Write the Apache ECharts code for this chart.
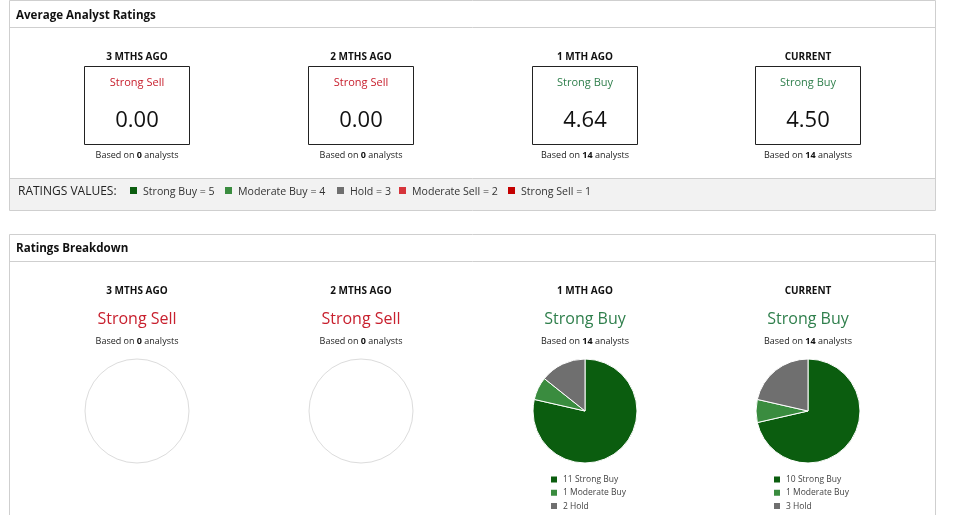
<!DOCTYPE html>
<html>
<head>
<meta charset="utf-8">
<script src="https://cdn.jsdelivr.net/npm/echarts@6/dist/echarts.min.js"></script>
<style>html,body{margin:0;padding:0;background:#fff;}#c{width:963px;height:515px;}</style>
</head>
<body>
<div id="c"></div>
<script>
// ---- data ----
const periods = ['3 MTHS AGO', '2 MTHS AGO', '1 MTH AGO', 'CURRENT'];
const avgRating = [0.00, 0.00, 4.64, 4.50];
const consensus = ['Strong Sell', 'Strong Sell', 'Strong Buy', 'Strong Buy'];
const analystCount = [0, 0, 14, 14];
const ratingNames = ['Strong Buy', 'Moderate Buy', 'Hold', 'Moderate Sell', 'Strong Sell'];
const ratingValues = [5, 4, 3, 2, 1];
const strongBuy = [0, 0, 11, 10];
const moderateBuy = [0, 0, 1, 1];
const hold = [0, 0, 2, 3];
const moderateSell = [0, 0, 0, 0];
const strongSell = [0, 0, 0, 0];

// ---- style ----
const FONT = '"Open Sans", "Noto Sans", sans-serif';
const ratingColors = ['#0b5d0f', '#3a8c3f', '#6f6f6f', '#d6343b', '#c40000'];
const consensusColor = { 'Strong Sell': '#c8202e', 'Strong Buy': '#2f7f4c' };
const colX = [137, 361, 585, 808];
const borderC = '#cfcfcf';

const chart = echarts.init(document.getElementById('c'));
const g = [];
function txt(x, y, text, font, fill, align) {
  g.push({ type: 'text', x: x, y: y, silent: true,
    style: { text: text, font: font, fill: fill || '#111', align: align || 'center', verticalAlign: 'middle' } });
}
function basedOn(x, y, n) {
  g.push({ type: 'text', x: x, y: y, silent: true,
    style: { text: '{a|Based on }{b|' + n + '}{a| analysts}', align: 'center', verticalAlign: 'middle',
      rich: { a: { font: '9px ' + FONT, fill: '#222' }, b: { font: 'bold 9px ' + FONT, fill: '#111' } } } });
}

// Panel 1
g.push({ type: 'rect', shape: { x: 9.5, y: 0.5, width: 926, height: 210 }, style: { fill: '#fff', stroke: borderC, lineWidth: 1 }, silent: true });
g.push({ type: 'rect', shape: { x: 10, y: 178.5, width: 925, height: 31.5 }, style: { fill: '#f2f2f2', stroke: null }, silent: true });
g.push({ type: 'line', shape: { x1: 10, y1: 178.5, x2: 935, y2: 178.5 }, style: { stroke: borderC, lineWidth: 1 }, silent: true });
g.push({ type: 'line', shape: { x1: 10, y1: 27.5, x2: 935, y2: 27.5 }, style: { stroke: borderC, lineWidth: 1 }, silent: true });
txt(16, 15.5, 'Average Analyst Ratings', 'bold 11.6px ' + FONT, '#111', 'left');

periods.forEach(function (p, i) {
  const x = colX[i];
  txt(x, 57.5, p, 'bold 10px ' + FONT, '#111');
  g.push({ type: 'rect', shape: { x: x - 52.5, y: 66.5, width: 105, height: 78 }, style: { fill: '#fff', stroke: '#222', lineWidth: 1 }, silent: true });
  txt(x, 82.5, consensus[i], '11px ' + FONT, consensusColor[consensus[i]]);
  txt(x, 121, avgRating[i].toFixed(2), '22px ' + FONT, '#111');
  basedOn(x, 155.5, analystCount[i]);
});

// Ratings values footer
txt(18, 191.5, 'RATINGS VALUES:', '12px ' + FONT, '#222', 'left');
const footX = [130, 225, 337, 399, 508];
ratingNames.forEach(function (n, i) {
  g.push({ type: 'rect', shape: { x: footX[i], y: 187, width: 7, height: 7 }, style: { fill: ratingColors[i] }, silent: true });
  txt(footX[i] + 13, 191.5, n + ' = ' + ratingValues[i], '10.6px ' + FONT, '#333', 'left');
});

// Panel 2
g.push({ type: 'rect', shape: { x: 9.5, y: 234.5, width: 926, height: 300 }, style: { fill: 'rgba(0,0,0,0)', stroke: borderC, lineWidth: 1 }, silent: true, z: -10 });
g.push({ type: 'line', shape: { x1: 10, y1: 261.5, x2: 935, y2: 261.5 }, style: { stroke: borderC, lineWidth: 1 }, silent: true });
txt(16, 248.5, 'Ratings Breakdown', 'bold 11.6px ' + FONT, '#111', 'left');
periods.forEach(function (p, i) {
  const x = colX[i];
  txt(x, 291.5, p, 'bold 10px ' + FONT, '#111');
  txt(x, 319.5, consensus[i], '16px ' + FONT, consensusColor[consensus[i]]);
  basedOn(x, 341.5, analystCount[i]);
});

const breakdown = [strongBuy, moderateBuy, hold, moderateSell, strongSell];
const series = [];
const legends = [];
periods.forEach(function (p, i) {
  const data = [];
  breakdown.forEach(function (arr, k) {
    if (arr[i] > 0) {
      data.push({ name: arr[i] + ' ' + ratingNames[k], value: arr[i], itemStyle: { color: ratingColors[k] } });
    }
  });
  series.push({
    type: 'pie', name: p, center: [colX[i], 411], radius: 52,
    startAngle: 90, clockwise: true, silent: true,
    label: { show: false }, labelLine: { show: false },
    itemStyle: { borderColor: '#fff', borderWidth: 1 },
    showEmptyCircle: true,
    emptyCircleStyle: { color: 'rgba(0,0,0,0)', borderColor: '#dcdcdc', borderWidth: 1 },
    stillShowZeroSum: false,
    animation: false,
    data: data
  });
  if (data.length) {
    legends.push({
      data: data.map(function (d) { return d.name; }),
      orient: 'vertical', left: colX[i] - 36, top: 474.5, height: 60, padding: 0,
      icon: 'rect', itemWidth: 8, itemHeight: 8, itemGap: 3.3,
      selectedMode: false,
      textStyle: { fontFamily: FONT, fontSize: 8.5, color: '#444', lineHeight: 10 }
    });
  }
});

chart.setOption({
  animation: false,
  backgroundColor: '#fff',
  graphic: g,
  legend: legends,
  series: series
});
</script>
</body>
</html>
